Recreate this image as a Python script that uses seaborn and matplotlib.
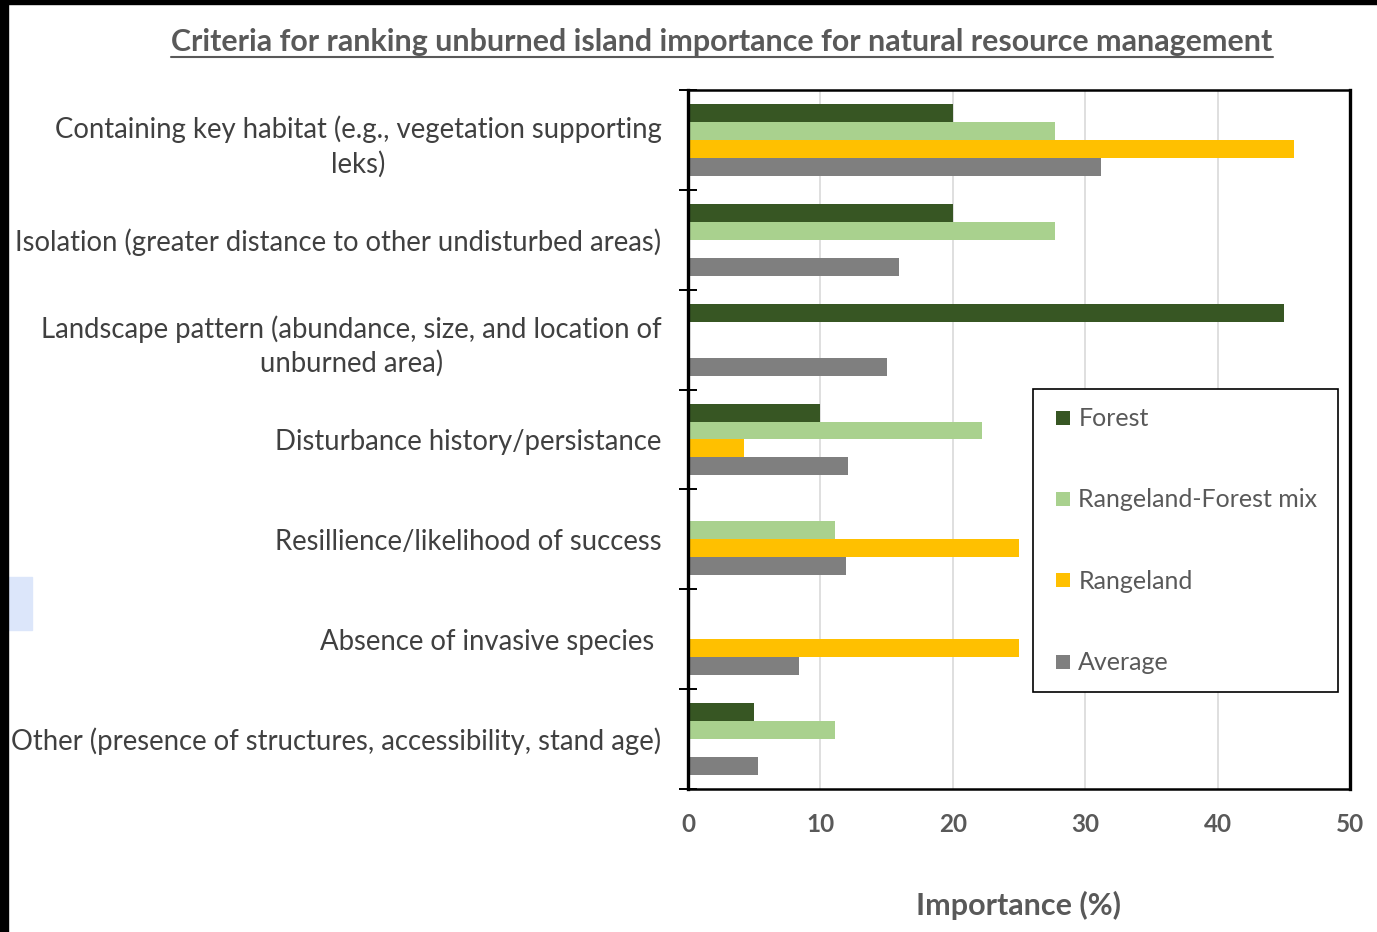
import matplotlib
matplotlib.use("Agg")
import matplotlib.pyplot as plt
from matplotlib.patches import Rectangle
from matplotlib.lines import Line2D
from matplotlib.ticker import FixedLocator
import seaborn as sns
import pandas as pd

# ---- data -------------------------------------------------------------
criteria = [
    "Containing key habitat (e.g., vegetation supporting\nleks)",
    "Isolation (greater distance to other undisturbed areas)",
    "Landscape pattern (abundance, size, and location of\nunburned area)",
    "Disturbance history/persistance",
    "Resillience/likelihood of success",
    "Absence of invasive species ",
    "Other (presence of structures, accessibility, stand age)",
]
groups = ["Forest", "Rangeland-Forest mix", "Rangeland", "Average"]
forest = [20.0, 20.0, 45.0, 10.0, 0.0, 0.0, 5.0]
mix = [27.7, 27.7, 0.0, 22.2, 11.1, 0.0, 11.1]
rangeland = [45.8, 0.0, 0.0, 4.2, 25.0, 25.0, 0.0]
average = [31.2, 15.9, 15.0, 12.1, 11.9, 8.4, 5.3]
x_ticks = [0, 10, 20, 30, 40, 50]

colors = ["#375623", "#A9D18E", "#FFC000", "#7F7F7F"]

rows = []
for g, vals in zip(groups, [forest, mix, rangeland, average]):
    for c, v in zip(criteria, vals):
        rows.append({"criterion": c, "group": g, "value": v})
df = pd.DataFrame(rows)

# ---- style ------------------------------------------------------------
sns.set_theme(style="white")
plt.rcParams["font.family"] = ["Lato", "DejaVu Sans"]

fig = plt.figure(figsize=(13.77, 9.32), dpi=100)
ax = fig.add_axes([688 / 1377, 1 - 789 / 932, (1350 - 688) / 1377, (789 - 90) / 932])

sns.barplot(
    data=df, y="criterion", x="value", hue="group",
    order=criteria, hue_order=groups, palette=colors,
    orient="h", width=0.72, saturation=1, ax=ax, linewidth=0,
)

ax.set_xlim(0, 50)
ax.set_ylim(len(criteria) - 0.5, -0.5)
ax.set_xticks(x_ticks)
ax.set_xticklabels([str(t) for t in x_ticks], fontsize=17.5, fontweight="bold",
                   color="#595959")
ax.tick_params(axis="x", length=0, pad=17)

ax.tick_params(axis="y", which="major", length=0, pad=19, labelsize=19.8,
               labelcolor="#404040")
ax.yaxis.set_minor_locator(FixedLocator([i - 0.5 for i in range(len(criteria) + 1)]))
ax.tick_params(axis="y", which="minor", direction="inout", length=13, width=1.4,
               color="black", left=True)
for lbl in ax.get_yticklabels():
    lbl.set_horizontalalignment("right")
    lbl.set_multialignment("center")
    lbl.set_linespacing(1.35)

ax.grid(axis="x", color="#D9D9D9", linewidth=1.2)
ax.grid(axis="y", visible=False)
ax.set_axisbelow(True)

for side, lw in [("left", 2.4), ("right", 2.4), ("top", 1.8), ("bottom", 1.8)]:
    ax.spines[side].set_visible(True)
    ax.spines[side].set_color("black")
    ax.spines[side].set_linewidth(lw)

ax.set_ylabel("")
ax.set_xlabel("Importance (%)", fontsize=22, fontweight="bold", color="#595959")
ax.xaxis.set_label_coords(0.5, -(891 - 789) / 699)
ax.xaxis.label.set_va("top")

# legend with small square swatches
ax.get_legend().remove()
handles = [Line2D([], [], linestyle="none", marker="s", markersize=9.5,
                  markerfacecolor=c, markeredgewidth=0) for c in colors]
leg = ax.legend(
    handles, groups,
    loc="upper left", bbox_to_anchor=(0.521, 0.152, 0.461, 0.42), mode="expand",
    frameon=True, fancybox=False, framealpha=1, edgecolor="black",
    fontsize=18, labelspacing=2.33, handlelength=1.0, handleheight=0.6,
    handletextpad=0.1, borderpad=0.72, borderaxespad=0,
)
leg.get_frame().set_linewidth(1.2)
for t in leg.get_texts():
    t.set_color("#595959")

# ---- title with underline --------------------------------------------
title = fig.text(722 / 1377, 1 - 42 / 932,
                 "Criteria for ranking unburned island importance for natural resource management",
                 ha="center", va="center", fontsize=21.9, fontweight="bold", color="#595959")
fig.canvas.draw()
bb = title.get_window_extent().transformed(fig.transFigure.inverted())
fig.add_artist(Line2D([bb.x0, bb.x1], [bb.y0 - 0.001, bb.y0 - 0.001],
                      transform=fig.transFigure, color="#595959", linewidth=1.5))

# ---- page frame -------------------------------------------------------
fig.patches.append(Rectangle((0, 0), 8 / 1377, 1, transform=fig.transFigure,
                             color="black", zorder=10))
fig.patches.append(Rectangle((0, 1 - 4 / 932), 1, 4 / 932, transform=fig.transFigure,
                             color="black", zorder=10))
fig.patches.append(Rectangle((8 / 1377, 1 - 630 / 932), 24 / 1377, 53 / 932,
                             transform=fig.transFigure, color="#DCE6FA", zorder=9))

fig.savefig("out.png", dpi=100)
